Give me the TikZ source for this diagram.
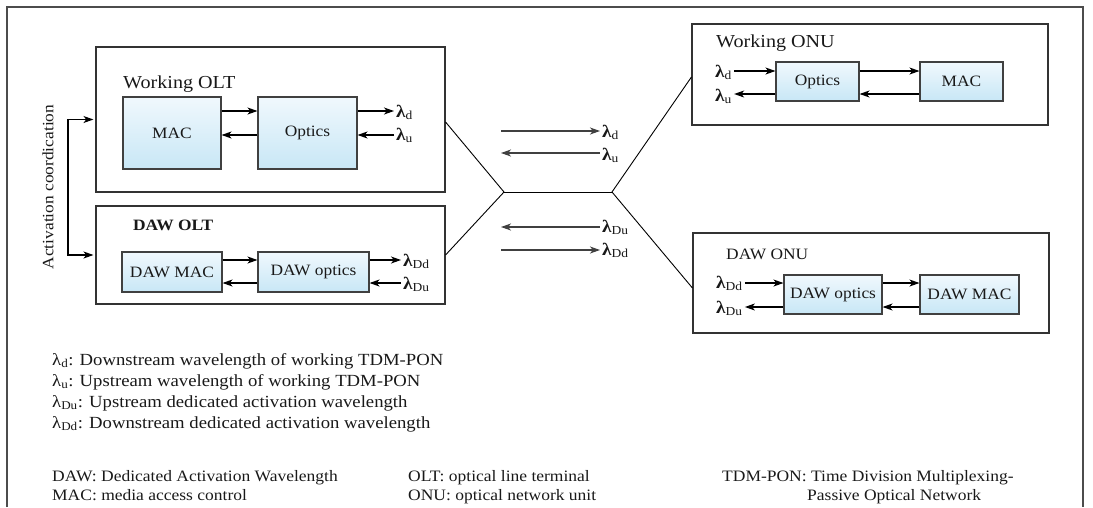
\documentclass[tikz,border=0pt]{standalone}
\usepackage{fontspec}
\setmainfont{Liberation Serif}[FakeStretch=1.1]
\usetikzlibrary{arrows.meta}
\definecolor{boxtop}{RGB}{240,248,253}
\definecolor{boxbot}{RGB}{200,231,246}
\newcommand{\labfont}{\fontsize{15.8}{18}\selectfont}
\newcommand{\ttlfont}{\fontsize{18.3}{21}\selectfont}
\newcommand{\lamfont}{\fontsize{17.5}{20}\selectfont}
\newcommand{\legfont}{\fontsize{17}{20}\selectfont}
\newcommand{\botfont}{\fontsize{15.9}{18}\selectfont}
\newcommand{\lmb}[1]{\textbf{λ}\textsubscript{#1}}
\newcommand{\lml}[1]{λ\textsubscript{#1}}
\begin{document}
\begin{tikzpicture}[x=1pt,y=-1pt,
  ubox/.style={draw=black!80, line width=1.1pt, inner sep=0pt},
  ibox/.style={draw=black!75, line width=1.1pt, top color=boxtop, bottom color=boxbot, inner sep=0pt, font=\labfont, text=black!90},
  ttl/.style={inner sep=0pt, font=\labfont, text=black!90, anchor=base west},
  lam/.style={inner sep=2pt, font=\lamfont, text=black!90, anchor=base west},
  leg/.style={inner sep=0pt, font=\legfont, text=black!90, anchor=base west},
  bot/.style={inner sep=0pt, font=\botfont, text=black!90, anchor=base west},
  arr/.style={-{Stealth[length=10pt,width=7pt,inset=2.8pt]}, line width=1.1pt},
  ln/.style={line width=0.9pt}]
\useasboundingbox (0,0) rectangle (1093,507);
% outer frame
\draw[draw=black!70, line width=1.1pt] (7,507) -- (7,7) -- (1083,7) -- (1083,507);

% Working OLT
\node[ubox, minimum width=349pt, minimum height=145pt] (wolt) at (270.5,119.5) {};
\node[ttl, font=\ttlfont] (woltT) at (123,88) {Working OLT};
\node[ibox, minimum width=98pt, minimum height=72pt] (wmac) at (172,133) {MAC};
\node[ibox, minimum width=99pt, minimum height=72pt] (wopt) at (307.5,133) {Optics};
\node[lam] (ld1) at (394,117) {\lmb{d}};
\node[lam] (lu1) at (394,140) {\lmb{u}};
\draw[arr] ([yshift=22pt]wmac.east) -- ([yshift=22pt]wopt.west);
\draw[arr] ([yshift=-2pt]wopt.west) -- ([yshift=-2pt]wmac.east);
\draw[arr] ([yshift=22pt]wopt.east) coordinate (a1) -- (a1 -| ld1.west);
\path ([yshift=-2pt]wopt.east) coordinate (a2);
\draw[arr] (a2 -| lu1.west) -- (a2);

% DAW OLT
\node[ubox, minimum width=349pt, minimum height=98pt] (dolt) at (270.5,255) {};
\node[ttl, font=\labfont\bfseries] (doltT) at (133,230) {DAW OLT};
\node[ibox, minimum width=100pt, minimum height=40pt] (dmac) at (172,272) {DAW MAC};
\node[ibox, minimum width=111pt, minimum height=40pt] (dopt) at (313.5,272) {DAW optics};
\node[lam] (lDd1) at (401,266) {\lmb{Dd}};
\node[lam] (lDu1) at (401,289) {\lmb{Du}};
\draw[arr] ([yshift=12pt]dmac.east) -- ([yshift=12pt]dopt.west);
\draw[arr] ([yshift=-11pt]dopt.west) -- ([yshift=-11pt]dmac.east);
\draw[arr] ([yshift=12pt]dopt.east) coordinate (b1) -- (b1 -| lDd1.west);
\path ([yshift=-11pt]dopt.east) coordinate (b2);
\draw[arr] (b2 -| lDu1.west) -- (b2);

% Activation coordination
\coordinate (acx) at (68,187);
\draw[{Stealth[length=10pt,width=7pt,inset=2.8pt]}-{Stealth[length=10pt,width=7pt,inset=2.8pt]}, line width=1.1pt, shorten <=2pt, shorten >=2pt]
  (wolt.west) -| (acx) |- (dolt.west);
\node[rotate=90, inner sep=0pt, font=\labfont, text=black!90] (act) at (48,187) {Activation coordication};

% splitter
\coordinate (sL) at (504,192);
\coordinate (sR) at (612,192);

% Working ONU
\node[ubox, minimum width=356pt, minimum height=101pt] (wonu) at (870,74.5) {};
\node[ttl, font=\ttlfont] (wonuT) at (716,47) {Working ONU};
\node[ibox, minimum width=83pt, minimum height=39pt] (oopt) at (817.5,81.5) {Optics};
\node[ibox, minimum width=83pt, minimum height=39pt] (omac) at (961.5,81.5) {MAC};
\node[lam] (ld2) at (713,77) {\lmb{d}};
\node[lam] (lu2) at (713,101) {\lmb{u}};
\path ([yshift=10.5pt]oopt.west) coordinate (c1);
\draw[arr] (c1 -| ld2.east) -- (c1);
\draw[arr] ([yshift=-12.5pt]oopt.west) coordinate (c2) -- (c2 -| lu2.east);
\draw[arr] ([yshift=10.5pt]oopt.east) -- ([yshift=10.5pt]omac.west);
\draw[arr] ([yshift=-12.5pt]omac.west) -- ([yshift=-12.5pt]oopt.east);

% DAW ONU
\node[ubox, minimum width=356pt, minimum height=100pt] (donu) at (871,283) {};
\node[ttl] (donuT) at (726,259) {DAW ONU};
\node[ibox, minimum width=98pt, minimum height=39pt] (dopt2) at (833,294.5) {DAW optics};
\node[ibox, minimum width=99pt, minimum height=39pt] (dmac2) at (969.5,294.5) {DAW MAC};
\node[lam] (lDd2) at (714,288) {\lmb{Dd}};
\node[lam] (lDu2) at (714,313) {\lmb{Du}};
\path ([yshift=11.5pt]dopt2.west) coordinate (d1);
\draw[arr] (d1 -| lDd2.east) -- (d1);
\draw[arr] ([yshift=-12.5pt]dopt2.west) coordinate (d2) -- (d2 -| lDu2.east);
\draw[arr] ([yshift=11.5pt]dopt2.east) -- ([yshift=11.5pt]dmac2.west);
\draw[arr] ([yshift=-12.5pt]dmac2.west) -- ([yshift=-12.5pt]dopt2.east);

% fibre lines
\draw[ln] ([yshift=-2.5pt]wolt.east) -- (sL) -- (dolt.east);
\draw[ln] (sL) -- (sR);
\draw[ln] ([yshift=-2.5pt]wonu.west) -- (sR) -- ([yshift=-5pt]donu.west);

% middle wavelength arrows
\node[lam] (mld) at (600,137) {\lmb{d}};
\node[lam] (mlu) at (600,160) {\lmb{u}};
\node[lam] (mlDu) at (600,232) {\lmb{Du}};
\node[lam] (mlDd) at (600,255) {\lmb{Dd}};
\coordinate (m1) at (501,131);
\coordinate (m2) at (501,153);
\coordinate (m3) at (501,227);
\coordinate (m4) at (501,250);
\draw[arr, draw=black!75] (m1) -- (m1 -| mld.west);
\draw[arr, draw=black!75] (m2 -| mlu.west) -- (m2);
\draw[arr, draw=black!75] (m3 -| mlDu.west) -- (m3);
\draw[arr, draw=black!75] (m4) -- (m4 -| mlDd.west);

% legend
\node[leg] (g1) at (52,365) {\lml{d}: Downstream wavelength of working TDM-PON};
\node[leg] (g2) at (52,386) {\lml{u}: Upstream wavelength of working TDM-PON};
\node[leg] (g3) at (52,407) {\lml{Du}: Upstream dedicated activation wavelength};
\node[leg] (g4) at (52,428) {\lml{Dd}: Downstream dedicated activation wavelength};

\node[bot] (h1) at (52,481) {DAW: Dedicated Activation Wavelength};
\node[bot] (h2) at (52,500) {MAC: media access control};
\node[bot] (h3) at (408,481) {OLT: optical line terminal};
\node[bot] (h4) at (408,500) {ONU: optical network unit};
\node[bot] (h5) at (722,481) {TDM-PON: Time Division Multiplexing-};
\node[bot] (h6) at (807,500) {Passive Optical Network};
\end{tikzpicture}
\end{document}
